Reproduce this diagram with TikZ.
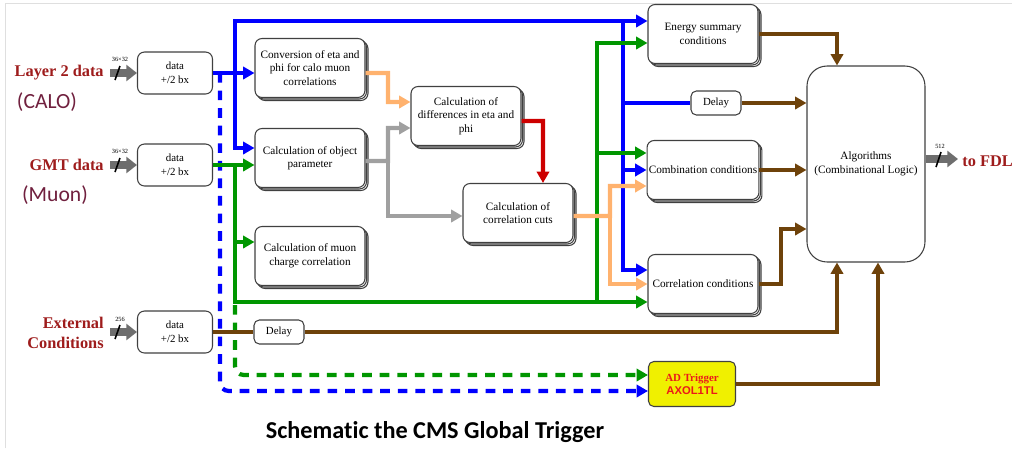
\documentclass[tikz,border=0pt]{standalone}
\usepackage{fontspec}
\setmainfont{Liberation Serif}
\newfontfamily\calibri[Ligatures=NoCommon]{Carlito}
\newfontfamily\arial{Liberation Sans}
\usetikzlibrary{arrows.meta,shadows}

\definecolor{azulc}{RGB}{0,0,255}
\definecolor{verdec}{RGB}{0,150,0}
\definecolor{naranjac}{RGB}{255,178,110}
\definecolor{grisc}{RGB}{160,160,160}
\definecolor{rojoc}{RGB}{205,0,0}
\definecolor{marronc}{RGB}{110,66,10}
\definecolor{grisent}{RGB}{110,110,110}
\definecolor{etqroja}{RGB}{158,28,28}
\definecolor{etqmorada}{RGB}{112,32,62}
\definecolor{amarillo}{RGB}{240,240,0}
\definecolor{textorojo}{RGB}{235,25,25}

\tikzset{
  caja/.style={draw=black!75, line width=0.6pt, fill=white, rounded corners=4pt,
    align=center, inner sep=1pt},
  pila/.style={caja,
    copy shadow={shadow xshift=1.7pt, shadow yshift=-1.7pt},
    copy shadow={shadow xshift=0.85pt, shadow yshift=-0.85pt},
    minimum width=2.2cm, minimum height=1.18cm,
    font=\fontsize{6.4}{7.7}\selectfont},
  dato/.style={caja, minimum width=1.5cm, minimum height=0.84cm,
    font=\fontsize{6.2}{7.9}\selectfont},
  retardo/.style={caja, rounded corners=3pt, minimum width=1.0cm, minimum height=0.48cm,
    font=\fontsize{6.2}{7.5}\selectfont},
  etq/.style={text=etqroja, font=\fontsize{9.3}{11.4}\selectfont\bfseries, inner sep=0pt},
  paren/.style={text=etqmorada, font=\calibri\fontsize{12.3}{14}\selectfont, inner sep=0pt},
  num/.style={font=\fontsize{3.6}{4}\selectfont, inner sep=0pt},
  linea/.style={line width=2.4pt},
  entrada/.style={draw=grisent, line width=4pt, -{Triangle[length=6pt,width=9pt]}},
  barra/.style={black, line width=0.9pt},
  discont/.style={linea, dash pattern=on 5.5pt off 4.5pt, rounded corners=5pt}
}

\begin{document}
\begin{tikzpicture}[x=0.02cm, y=-0.02cm, >={Triangle[length=6.5pt,width=7pt]}]
  \useasboundingbox (0,0) rectangle (1012,450);
  % Marco
  \draw[gray!25, line width=0.5pt] (5,448) -- (5,3) -- (1012,3);

  % Etiquetas de entrada
  \node[etq, anchor=east] (lcalo) at (104,73) {Layer 2 data};
  \node[paren] (pcalo) at (47,102) {(CALO)};
  \node[etq, anchor=east] (lmuon) at (104,165) {GMT data};
  \node[paren] (pmuon) at (55,195) {(Muon)};
  \node[etq, anchor=east, align=right] (lext) at (104,333) {External\\Conditions};

  % Cajas de datos
  \node[dato] (dcalo) at (175,73) {data\\+/2 bx};
  \node[dato] (dmuon) at (175,165) {data\\+/2 bx};
  \node[dato] (dext) at (175,332) {data\\+/2 bx};

  % Flechas de entrada
  \coordinate (icalo) at (110,73);
  \coordinate (imuon) at (110,165);
  \coordinate (iext) at (110,332);
  \draw[entrada] (icalo) -- (dcalo.west);
  \draw[entrada] (imuon) -- (dmuon.west);
  \draw[entrada] (iext) -- (dext.west);
  \draw[barra] (115,80) -- (120,66);
  \draw[barra] (115,172) -- (120,158);
  \draw[barra] (115,339) -- (120,325);
  \node[num] (ncalo) at (120,59) {36×32};
  \node[num] (nmuon) at (120,151) {36×32};
  \node[num] (next) at (120,319) {256};

  % Bloques
  \node[pila] (conv) at (310,68) {Conversion of eta and\\phi for calo muon\\correlations};
  \node[pila] (obj) at (310,158) {Calculation of object\\parameter};
  \node[pila] (much) at (310,256) {Calculation of muon\\charge correlation};
  \node[pila] (dif) at (466,116) {Calculation of\\differences in eta and\\phi};
  \node[pila] (cuts) at (518,213) {Calculation of\\correlation cuts};
  \node[pila] (ener) at (703,34) {Energy summary\\conditions};
  \node[pila] (comb) at (703,170) {Combination conditions};
  \node[pila] (corrc) at (703,284) {Correlation conditions};
  \node[retardo] (dtop) at (716,103) {Delay};
  \node[retardo] (dbot) at (279,332) {Delay};
  \node[caja, rounded corners=0.4cm, minimum width=2.36cm, minimum height=3.92cm,
    font=\fontsize{6.4}{7.7}\selectfont] (alg) at (866,164) {Algorithms\\(Combinational Logic)};
  \node[caja, fill=amarillo, rounded corners=3pt, minimum width=1.74cm, minimum height=0.9cm,
    text=textorojo, font=\fontsize{6.2}{7.6}\selectfont\bfseries] (adt) at (692,384)
    {AD Trigger\\{\arial\fontsize{6.4}{7.6}\selectfont\bfseries AXOL1TL}};

  % Lineas discontinuas
  \draw[discont, azulc, ->] (220,73) -- (220,391) -- (220,391 -| adt.west);
  \draw[discont, verdec, ->] (235,305) -- (235,375) -- (235,375 -| adt.west);

  % Azul
  \draw[linea, azulc, ->] (dcalo.east) -- (dcalo.east -| conv.west);
  \draw[linea, azulc, ->] (235,73) -- (235,21) -- (235,21 -| ener.west);
  \draw[linea, azulc, ->] (235,73) -- (235,148) -- (235,148 -| obj.west);
  \draw[linea, azulc, ->] (623,21) -- (623,270) -- (623,270 -| corrc.west);
  \draw[linea, azulc] (623,103) -- (dtop.west);
  \draw[linea, azulc, ->] (623,170) -- (comb.west);

  % Verde
  \draw[linea, verdec, ->] (dmuon.east) -- (dmuon.east -| obj.west);
  \draw[linea, verdec, ->] (235,165) -- (235,302) -- (235,302 -| corrc.west);
  \draw[linea, verdec, ->] (235,242) -- (235,242 -| much.west);
  \draw[linea, verdec, ->] (597,302) -- (597,43) -- (597,43 -| ener.west);
  \draw[linea, verdec, ->] (597,153) -- (597,153 -| comb.west);

  % Naranja, gris y rojo
  \draw[linea, naranjac, ->] ([yshift=-1mm]conv.east) -- (388,73) -- (388,102) -- (388,102 -| dif.west);
  \draw[linea, grisc, ->] ([yshift=-0.6mm]obj.east) -- (388,161) -- (388,128) -- (388,128 -| dif.west);
  \draw[linea, grisc, ->] (388,161) -- (388,216) -- (388,216 -| cuts.west);
  \draw[linea, rojoc, ->] ([yshift=-1mm]dif.east) -- (543,121) -- (543,121 |- cuts.north);
  \draw[linea, naranjac, ->] ([yshift=-0.6mm]cuts.east) -- (610,216) -- (610,186) -- (610,186 -| comb.west);
  \draw[linea, naranjac, ->] (610,216) -- (610,284) -- (610,284 -| corrc.west);

  % Marron
  \draw[linea, marronc, ->] (ener.east) -- (837,34) -- (837,34 |- alg.north);
  \draw[linea, marronc, ->] (dtop.east) -- (dtop.east -| alg.west);
  \draw[linea, marronc, ->] (comb.east) -- (comb.east -| alg.west);
  \draw[linea, marronc, ->] (corrc.east) -- (781,284) -- (781,229) -- (781,229 -| alg.west);
  \draw[linea, marronc] (dext.east) -- (dbot.west);
  \draw[linea, marronc, ->] (dbot.east) -- (837,332) -- (837,332 |- alg.south);
  \draw[linea, marronc, ->] (adt.east) -- (878,384) -- (878,384 |- alg.south);

  % Salida
  \coordinate (ofdl) at (958,159);
  \draw[entrada] (alg.east |- ofdl) -- (ofdl);
  \draw[barra] (936,167) -- (941,152);
  \node[num] (nfdl) at (940,146) {512};
  \node[etq, anchor=west] (lfdl) at (962,161) {to FDL};

  % Titulo
  \node[font=\calibri\fontsize{13.8}{16}\selectfont\bfseries, inner sep=0pt] (tit) at (435,432)
    {Schematic the CMS Global Trigger};
\end{tikzpicture}
\end{document}
